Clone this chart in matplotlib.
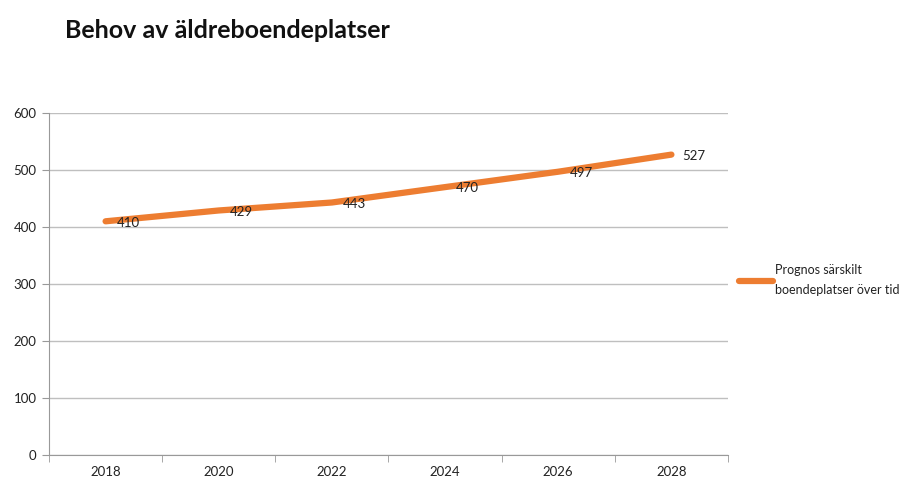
import matplotlib.pyplot as plt

years = ["2018", "2020", "2022", "2024", "2026", "2028"]
values = [410, 429, 443, 470, 497, 527]
yticks = [0, 100, 200, 300, 400, 500, 600]
series_name = "Prognos särskilt\nboendeplatser över tid"

plt.rcParams["font.family"] = ["Lato", "DejaVu Sans"]

fig = plt.figure(figsize=(9.04, 4.86), dpi=100)
ax = fig.add_axes([49 / 904, 1 - 455 / 486, (728 - 49) / 904, (455 - 113) / 486])

x = list(range(len(years)))
ax.plot(x, values, color="#ED7D31", linewidth=4.5, solid_capstyle="round",
        label=series_name)
for xi, v in zip(x, values):
    ax.annotate(str(v), (xi, v), xytext=(8, -1), textcoords="offset points",
                ha="left", va="center", fontsize=9.5, color="#222222")

ax.set_xlim(-0.5, len(years) - 0.5)
ax.set_ylim(0, 600)
ax.set_yticks(yticks)
ax.set_xticks(x)
ax.set_xticklabels(years)
ax.set_xticks([i + 0.5 for i in range(-1, len(years))], minor=True)
ax.tick_params(axis="x", which="major", length=0, pad=8, labelsize=9.5, colors="#222222")
ax.tick_params(axis="x", which="minor", length=5, color="#999999", direction="out")
ax.tick_params(axis="y", length=5, color="#999999", labelsize=9.5, labelcolor="#222222", pad=4)
ax.grid(axis="y", color="#BFBFBF", linewidth=1)
ax.set_axisbelow(True)
for s in ["top", "right"]:
    ax.spines[s].set_visible(False)
for s in ["left", "bottom"]:
    ax.spines[s].set_color("#999999")

fig.text(65 / 904, 1 - 30 / 486, "Behov av äldreboendeplatser", fontsize=18,
         fontweight="bold", ha="left", va="center", color="#111111")

leg = fig.legend(loc="center left", bbox_to_anchor=(729 / 904, 1 - 280 / 486), frameon=False,
                 fontsize=9, handlelength=2.7, handletextpad=0.15, borderpad=0.3)
for t in leg.get_texts():
    t.set_linespacing(1.75)
    t.set_color("#222222")

fig.savefig("out.png", dpi=100)
